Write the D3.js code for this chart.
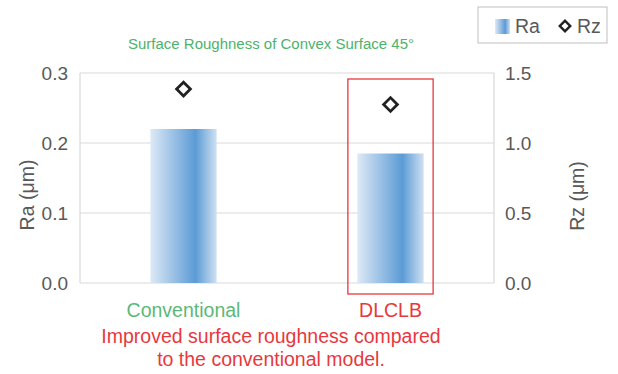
<!DOCTYPE html>
<html><head><meta charset="utf-8">
<script src="https://cdn.jsdelivr.net/npm/d3@7"></script>
<style>body{margin:0;background:#fff;} svg{display:block;font-family:"Liberation Sans",Arial,sans-serif;}</style>
</head><body>
<svg id="c" width="618" height="374"></svg>
<script>
const categories = ["Conventional", "DLCLB"];
const raValues = [0.22, 0.185];
const rzValues = [1.385, 1.275];
const raTicks = [0, 0.1, 0.2, 0.3];
const rzTicks = [0, 0.5, 1.0, 1.5];
const seriesNames = ["Ra", "Rz"];

const svg = d3.select("#c");
const L = 80, R = 494, T = 73, B = 283;

const x = d3.scaleBand().domain(categories).range([L, R]).paddingInner(0.68).paddingOuter(0.34);
const yRa = d3.scaleLinear().domain([0, 0.3]).range([B, T]);
const yRz = d3.scaleLinear().domain([0, 1.5]).range([B, T]);

const defs = svg.append("defs");
const g = defs.append("linearGradient").attr("id", "barGrad").attr("x1", "0").attr("x2", "1").attr("y1", "0").attr("y2", "0");
g.append("stop").attr("offset", "0%").attr("stop-color", "#dde9f6");
g.append("stop").attr("offset", "68%").attr("stop-color", "#5b9bd5");
g.append("stop").attr("offset", "100%").attr("stop-color", "#cfe0f2");

// gridlines
svg.append("g").selectAll("line").data(raTicks).join("line")
  .attr("x1", L).attr("x2", R).attr("y1", d => yRa(d)).attr("y2", d => yRa(d))
  .attr("stroke", "#d9d9d9").attr("stroke-width", 1.2);
svg.append("line").attr("x1", L).attr("x2", L).attr("y1", T).attr("y2", B).attr("stroke", "#d9d9d9").attr("stroke-width", 1.2);
svg.append("line").attr("x1", R).attr("x2", R).attr("y1", T).attr("y2", B).attr("stroke", "#d9d9d9").attr("stroke-width", 1.2);

// axes
const ax = svg.append("g").attr("transform", `translate(${L},0)`)
  .call(d3.axisLeft(yRa).tickValues(raTicks).tickFormat(d3.format(".1f")).tickSize(0).tickPadding(12));
ax.select(".domain").remove();
ax.selectAll("text").attr("font-size", 19).attr("fill", "#595959").attr("font-family", "Liberation Sans, Arial, sans-serif");

const ax2 = svg.append("g").attr("transform", `translate(${R},0)`)
  .call(d3.axisRight(yRz).tickValues(rzTicks).tickFormat(d3.format(".1f")).tickSize(0).tickPadding(11));
ax2.select(".domain").remove();
ax2.selectAll("text").attr("font-size", 19).attr("fill", "#595959").attr("font-family", "Liberation Sans, Arial, sans-serif");

// bars
svg.append("g").selectAll("rect").data(categories).join("rect")
  .attr("x", d => x(d)).attr("width", x.bandwidth())
  .attr("y", (d, i) => yRa(raValues[i])).attr("height", (d, i) => yRa(0) - yRa(raValues[i]))
  .attr("fill", "url(#barGrad)");

// Rz markers
const diamond = d3.symbol().type(d3.symbolSquare).size(95);
svg.append("g").selectAll("path").data(categories).join("path")
  .attr("d", diamond())
  .attr("transform", (d, i) => `translate(${x(d) + x.bandwidth() / 2},${yRz(rzValues[i])}) rotate(45)`)
  .attr("fill", "#fff").attr("stroke", "#222").attr("stroke-width", 2.8);

// red highlight box
const bx = x("DLCLB");
svg.append("rect").attr("x", bx - 9.5).attr("y", 79).attr("width", x.bandwidth() + 19).attr("height", 215)
  .attr("fill", "none").attr("stroke", "#e8383d").attr("stroke-width", 1.3);

// axis titles
svg.append("text").attr("transform", "translate(34,195) rotate(-90)").attr("text-anchor", "middle")
  .attr("font-size", 19.5).attr("fill", "#595959").text("Ra (μm)");
svg.append("text").attr("transform", "translate(584,196) rotate(-90)").attr("text-anchor", "middle")
  .attr("font-size", 19.5).attr("fill", "#595959").text("Rz (μm)");

// title
svg.append("text").attr("x", 271).attr("y", 49).attr("text-anchor", "middle")
  .attr("font-size", 14).attr("fill", "#4db36b").attr("textLength", 286).attr("lengthAdjust", "spacingAndGlyphs")
  .text("Surface Roughness of Convex Surface 45°");

// category labels
const catColors = ["#5cb878", "#e8383d"];
svg.append("g").selectAll("text").data(categories).join("text")
  .attr("x", d => x(d) + x.bandwidth() / 2).attr("y", 317).attr("text-anchor", "middle")
  .attr("font-size", 19.5).attr("fill", (d, i) => catColors[i]).text(d => d);

// note
const note = ["Improved surface roughness compared", "to the conventional model."];
svg.append("g").selectAll("text").data(note).join("text")
  .attr("x", 271).attr("y", (d, i) => 343 + i * 23).attr("text-anchor", "middle")
  .attr("font-size", 19.5).attr("fill", "#e8383d").text(d => d);

// legend
const lg = svg.append("g");
lg.append("rect").attr("x", 478).attr("y", 7).attr("width", 129).attr("height", 36)
  .attr("fill", "#fff").attr("stroke", "#bfbfbf").attr("stroke-width", 1);
lg.append("rect").attr("x", 495).attr("y", 19).attr("width", 15).attr("height", 15).attr("fill", "url(#barGrad)");
lg.append("text").attr("x", 515).attr("y", 33).attr("font-size", 19.5).attr("fill", "#595959").text(seriesNames[0]);
lg.append("path").attr("d", d3.symbol().type(d3.symbolSquare).size(55)())
  .attr("transform", "translate(565,26) rotate(45)").attr("fill", "#fff").attr("stroke", "#222").attr("stroke-width", 2.4);
lg.append("text").attr("x", 577).attr("y", 33).attr("font-size", 19.5).attr("fill", "#595959").text(seriesNames[1]);
</script>
</body></html>
